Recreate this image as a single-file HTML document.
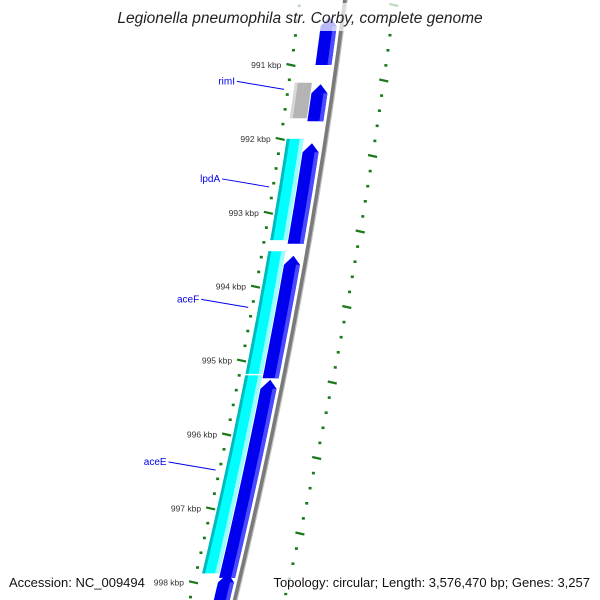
<!DOCTYPE html>
<html><head><meta charset="utf-8"><style>
body{margin:0;background:#fff;}
svg{display:block;font-family:"Liberation Sans","DejaVu Sans",sans-serif;}
</style></head><body>
<svg id="map" width="600" height="600" viewBox="0 0 600 600">
<g id="rings"></g>
<g id="feats"></g>
<g id="labels"></g>
<rect x="0" y="3" width="600" height="28" fill="#fff" fill-opacity="0.72"/>
<text x="300" y="23" text-anchor="middle" font-size="15.5" font-style="italic" fill="#222">Legionella pneumophila str. Corby, complete genome</text>
<rect x="0" y="571" width="148" height="22" fill="#fff" fill-opacity="0.72"/>
<rect x="256" y="571" width="344" height="22" fill="#fff" fill-opacity="0.72"/>
<text x="9" y="587" font-size="13" fill="#111">Accession: NC_009494</text>
<text x="590" y="587" font-size="13" fill="#111" text-anchor="end">Topology: circular; Length: 3,576,470 bp; Genes: 3,257</text>
</svg>
<script>
// data
const tickKbp = [991, 992, 993, 994, 995, 996, 997, 998];
const geneNames = ["", "rimI", "", "lpdA", "", "aceF", "", "aceE", "", ""];
const geneStartKbp = [990.35, 991.24, 991.26, 992.00, 992.06, 993.52, 993.58, 995.20, 995.26, 997.88];
const geneEndKbp =   [991.00, 991.72, 991.76, 993.37, 993.42, 995.18, 995.24, 997.88, 997.94, 998.40];
const geneTrack = ["fwd","rev","fwd","rev","fwd","rev","fwd","rev","fwd","fwd"];
const geneKind = ["cds","other","cds","rna","cds","rna","cds","rna","cds","cds"];
const labelKbp = [991.33, 992.65, 994.28, 996.48];
const labelText = ["rimI","lpdA","aceF","aceE"];

const NS="http://www.w3.org/2000/svg";
function yOf(k){ return 65 + (k-991)*73.9; }
function bx(y){ return 345 - 0.1257*y - 0.0000967*y*y; }
function mk(tag,attrs,parent){const e=document.createElementNS(NS,tag);for(const k in attrs)e.setAttribute(k,attrs[k]);parent.appendChild(e);return e;}
function band(y1,y2,o1,o2,arrow){
  const pts=[];const n=12;
  if(arrow){const ya=y1+9;
    for(let i=0;i<=n;i++){const y=y2-(y2-ya)*i/n;pts.push([bx(y)+o1,y]);}
    pts.push([bx(y1)+(o1+o2)/2,y1]);
    for(let i=0;i<=n;i++){const y=ya+(y2-ya)*i/n;pts.push([bx(y)+o2,y]);}
  } else {
    for(let i=0;i<=n;i++){const y=y2-(y2-y1)*i/n;pts.push([bx(y)+o1,y]);}
    for(let i=0;i<=n;i++){const y=y1+(y2-y1)*i/n;pts.push([bx(y)+o2,y]);}
  }
  return pts.map(p=>p[0].toFixed(1)+","+p[1].toFixed(1)).join(" ");
}
const rings=document.getElementById('rings'),feats=document.getElementById('feats'),labs=document.getElementById('labels');
let bp=[];for(let y=-10;y<=610;y+=10)bp.push(bx(y).toFixed(1)+","+y);
let bl=mk('polyline',{points:bp.join(" "),fill:"none",stroke:"#7a7a7a","stroke-width":4},rings);


bp=[];for(let y=-10;y<=610;y+=10)bp.push((bx(y)+2.2).toFixed(1)+","+y);
bl=mk('polyline',{points:bp.join(" "),fill:"none",stroke:"#c0c0c0","stroke-width":1.2},rings);


for(let k=990.2;k<=998.3;k+=0.2){
  const kk=Math.round(k*10)/10;const y=yOf(kk);
  if(y<-5||y>605)continue;
  const major=Math.abs(kk-Math.round(kk))<0.01;
  let e;
  if(major){e=mk('line',{x1:bx(y)-50,y1:y-1,x2:bx(y)-41,y2:y+1,stroke:"#1a7a1a","stroke-width":2.2},rings);}
  else{e=mk('rect',{x:bx(y)-46.5,y:y-1.3,width:3,height:2.6,fill:"#1a7a1a"},rings);}
  
  
}
tickKbp.forEach(k=>{const y=yOf(k);
  const t=mk('text',{x:bx(y)-55,y:y+3,"text-anchor":"end","font-size":"8.5",fill:"#333"},rings);
  t.textContent=k+" kbp";
  
  });
for(let i=0;i<45;i++){const y=5+i*15.1;if(y>600)break;
  let e;
  if(i%5===0){e=mk('line',{x1:bx(y)+45,y1:y-1,x2:bx(y)+54,y2:y+1,stroke:"#1a7a1a","stroke-width":2.2},rings);}
  else{e=mk('rect',{x:bx(y)+48,y:y-1.3,width:3,height:2.6,fill:"#1a7a1a"},rings);}
  
  }
for(let i=0;i<geneStartKbp.length;i++){
  const y1=yOf(geneStartKbp[i]),y2=yOf(geneEndKbp[i]);
  const fwd=geneTrack[i]==="fwd";
  const o1=fwd?-21:-39,o2=fwd?-5:-22;
  let main,edge;
  if(geneKind[i]==="cds"){main="#0000ee";edge="#4a4aff";}
  else if(geneKind[i]==="rna"){main="#00ffff";edge="#00bbbb";}
  else{main="#b4b4b4";edge="#d8d8d8";}
  const g=mk('g',{},feats);
  
  
  mk('polygon',{points:band(y1,y2,o1,o2,fwd),fill:main},g);
  if(fwd) mk('polygon',{points:band(y1+9,y2,o2-4,o2,false),fill:edge},g);
  else mk('polygon',{points:band(y1,y2,o1,o1+3,false),fill:edge},g);
  if(!fwd && geneKind[i]==="rna") mk('polygon',{points:band(y1,y2,o2-4,o2,false),fill:"#9ffcfc"},g);
}
labelKbp.forEach((k,i)=>{const y=yOf(k);const x2=bx(y)-49;
  const ln=mk('line',{x1:x2-47,y1:y-8,x2:x2,y2:y,stroke:"#0000ee","stroke-width":1},labs);
  
  
  const t=mk('text',{x:x2-49,y:y-5,"text-anchor":"end","font-size":"10",fill:"#0000ee"},labs);
  t.textContent=labelText[i];
  
  });
</script>
</body></html>
